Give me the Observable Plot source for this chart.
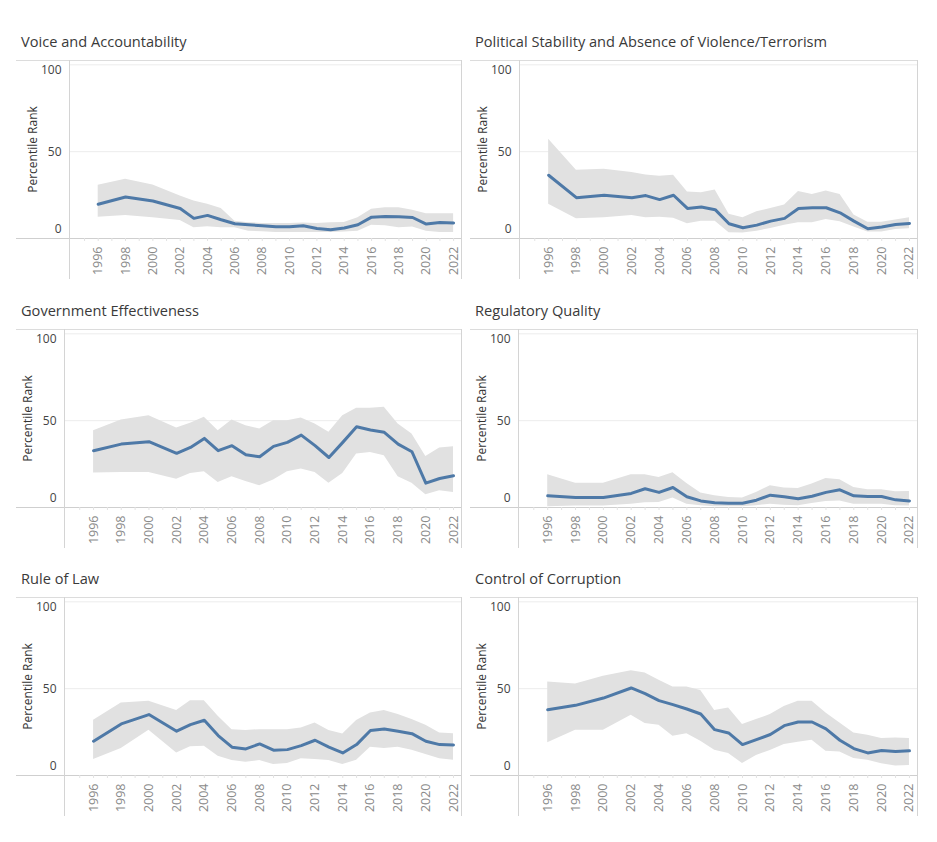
<!DOCTYPE html>
<html>
<head>
<meta charset="utf-8">
<script src="https://cdn.jsdelivr.net/npm/d3@7"></script>
<script src="https://cdn.jsdelivr.net/npm/@observablehq/plot@0.6"></script>
<style>
  html, body { margin: 0; padding: 0; background: #fff; }
  body { width: 937px; height: 842px; position: relative; overflow: hidden; font-family: "Open Sans", "Noto Sans", sans-serif; }
  .title { position: absolute; font-size: 14.6px; font-weight: 400; color: #3a3a3a; white-space: nowrap; line-height: 20px; }
  .chart { position: absolute; }
  .chart svg { display: block; overflow: visible; }
</style>
</head>
<body>
<script>
const years = [1996, 1998, 2000, 2002, 2003, 2004, 2005, 2006, 2007, 2008, 2009, 2010, 2011, 2012, 2013, 2014, 2015, 2016, 2017, 2018, 2019, 2020, 2021, 2022];
const evenYears = [1996, 1998, 2000, 2002, 2004, 2006, 2008, 2010, 2012, 2014, 2016, 2018, 2020, 2022];
const minorYears = d3.range(1995, 2023);
const yTicks = [0, 50, 100];
const yLabel = "Percentile Rank";

const titles = [
  "Voice and Accountability",
  "Political Stability and Absence of Violence/Terrorism",
  "Government Effectiveness",
  "Regulatory Quality",
  "Rule of Law",
  "Control of Corruption"
];

// Voice and Accountability
const vaRank = [19.7, 23.9, 21.6, 17.3, 11.6, 13.3, 10.8, 8.5, 7.9, 7.3, 6.7, 6.7, 7.3, 5.8, 5.0, 6.0, 7.9, 12.3, 12.7, 12.5, 12.1, 8.3, 9.2, 8.9];
const vaHigh = [30.6, 34.1, 30.8, 24.5, 21.6, 19.7, 17.3, 10.0, 9.1, 8.7, 8.7, 8.7, 8.9, 8.7, 9.1, 9.2, 11.9, 16.8, 17.7, 17.7, 16.2, 14.3, 14.3, 14.3];
const vaLow  = [12.3, 13.3, 11.9, 10.4, 6.2, 6.7, 6.2, 6.2, 4.2, 3.9, 3.5, 3.5, 3.5, 3.5, 3.5, 3.7, 4.2, 7.7, 7.3, 6.2, 6.6, 4.2, 3.5, 3.5];

// Political Stability and Absence of Violence/Terrorism
const psRank = [36.4, 23.5, 24.9, 23.5, 24.7, 22.4, 24.9, 17.3, 18.1, 16.6, 8.5, 6.2, 7.7, 10.0, 11.6, 17.3, 17.7, 17.7, 14.8, 10.0, 5.6, 6.6, 8.1, 8.7];
const psHigh = [57.2, 39.3, 39.9, 38.0, 36.6, 35.8, 36.4, 26.8, 26.4, 27.9, 13.9, 11.9, 15.4, 17.3, 19.3, 27.0, 25.4, 27.4, 25.4, 13.5, 9.4, 9.4, 10.6, 11.9];
const psLow  = [19.7, 11.4, 11.9, 13.3, 11.9, 12.3, 11.6, 8.5, 10.0, 10.0, 3.3, 3.1, 4.2, 5.8, 7.7, 9.1, 9.1, 11.0, 9.6, 6.6, 3.7, 3.7, 5.2, 5.6];

// Government Effectiveness
const geRank = [32.7, 36.5, 37.9, 31.2, 34.6, 39.8, 32.7, 35.6, 30.4, 29.2, 35.2, 37.5, 41.7, 35.6, 28.8, 37.5, 46.5, 44.6, 43.3, 36.5, 32.1, 14.0, 16.7, 18.3];
const geHigh = [44.2, 50.4, 52.9, 45.8, 48.5, 51.9, 44.2, 50.4, 47.1, 45.2, 50.0, 50.0, 51.5, 48.1, 43.3, 52.9, 57.1, 57.1, 57.7, 48.1, 42.3, 29.4, 34.2, 35.0];
const geLow  = [19.8, 20.2, 20.2, 16.3, 19.6, 20.6, 14.4, 17.7, 15.0, 12.5, 15.8, 20.6, 22.1, 20.2, 14.0, 19.6, 30.8, 31.7, 29.8, 17.7, 14.0, 7.3, 9.6, 8.7];

// Regulatory Quality
const rqRank = [6.7, 5.8, 5.8, 8.1, 10.8, 8.7, 11.5, 6.2, 3.8, 2.7, 2.5, 2.5, 4.2, 7.1, 6.2, 5.0, 6.5, 8.7, 10.2, 6.7, 6.3, 6.3, 4.4, 3.8];
const rqHigh = [18.8, 14.0, 14.0, 18.8, 18.8, 17.3, 20.0, 13.8, 8.3, 6.7, 5.8, 5.4, 8.7, 12.5, 11.2, 11.0, 13.5, 16.7, 16.0, 11.5, 10.2, 10.2, 9.0, 9.2];
const rqLow  = [0.4, 0.8, 0.8, 1.9, 2.7, 2.9, 5.4, 1.9, 1.0, 0.4, 0.4, 0.4, 1.0, 1.9, 1.3, 1.0, 2.3, 3.5, 3.8, 1.9, 1.9, 1.9, 1.0, 0.8];

// Rule of Law
const rlRank = [19.7, 29.7, 35.1, 25.5, 29.3, 31.8, 23.0, 16.3, 15.3, 18.2, 14.6, 14.9, 17.2, 20.3, 16.3, 13.0, 17.8, 25.9, 26.8, 25.5, 24.1, 19.7, 17.8, 17.6];
const rlHigh = [31.8, 41.8, 42.7, 37.5, 43.1, 43.1, 34.1, 26.4, 25.9, 26.4, 26.4, 26.4, 27.4, 30.3, 25.9, 23.9, 31.6, 36.0, 37.4, 35.1, 32.2, 28.9, 24.5, 24.1];
const rlLow  = [9.2, 15.5, 26.1, 13.0, 16.5, 16.9, 11.1, 8.6, 7.7, 8.6, 6.3, 6.9, 9.6, 9.2, 8.6, 6.3, 8.8, 16.3, 15.5, 16.3, 14.6, 12.1, 9.6, 8.8];

// Control of Corruption
const ccRank = [37.9, 40.4, 44.6, 50.4, 47.1, 43.1, 40.8, 38.3, 35.4, 26.4, 24.5, 17.8, 20.7, 23.6, 28.7, 30.8, 30.8, 26.8, 20.3, 15.5, 13.0, 14.4, 13.8, 14.2];
const ccHigh = [53.8, 52.7, 57.1, 60.3, 59.0, 54.8, 51.0, 51.0, 49.0, 37.4, 38.9, 29.3, 32.2, 35.1, 39.8, 42.7, 42.7, 36.0, 30.3, 24.5, 23.2, 21.3, 21.6, 21.3];
const ccLow  = [18.8, 26.1, 26.1, 34.7, 29.9, 28.9, 22.6, 24.1, 19.7, 14.6, 12.6, 6.9, 11.5, 14.4, 17.8, 19.2, 20.3, 14.0, 13.6, 9.8, 8.8, 6.7, 5.4, 5.7];

const series = [
  [vaRank, vaLow, vaHigh],
  [psRank, psLow, psHigh],
  [geRank, geLow, geHigh],
  [rqRank, rqLow, rqHigh],
  [rlRank, rlLow, rlHigh],
  [ccRank, ccLow, ccHigh]
];

// layout
const colLeft = [16, 470];
const colWidth = [446, 448];
const rowTop = [60, 329, 597];
const panelMarginLeft = [53, 49, 48, 48, 48, 48];

function frameLines(index, scales, values, dims) {
  const g = d3.create("svg:g");
  const w = dims.width, h = dims.height;
  const xl = Math.round(dims.marginLeft) + 0.5;
  const xr = Math.round(w - dims.marginRight) - 0.5;
  const y0 = Math.round(scales.y(0)) + 0.5;
  g.append("line").attr("x1", 0).attr("x2", xr).attr("y1", 0.5).attr("y2", 0.5).attr("stroke", "#dcdcdc");
  g.append("line").attr("x1", 0).attr("x2", xr).attr("y1", y0).attr("y2", y0).attr("stroke", "#cfcfcf");
  g.append("line").attr("x1", xl).attr("x2", xl).attr("y1", 0).attr("y2", h).attr("stroke", "#d4d4d4");
  g.append("line").attr("x1", xr).attr("x2", xr).attr("y1", 0).attr("y2", h).attr("stroke", "#d4d4d4");
  return g.node();
}

function makePanel(i) {
  const [rank, lo, hi] = series[i];
  const data = years.map((yr, k) => ({year: yr, rank: rank[k], lo: lo[k], hi: hi[k]}));
  const col = i % 2, row = Math.floor(i / 2);
  const width = colWidth[col];

  const plot = Plot.plot({
    width,
    height: 219,
    marginLeft: panelMarginLeft[i],
    marginRight: 0,
    marginTop: 0,
    marginBottom: 41,
    style: {fontFamily: '"Open Sans", "Noto Sans", sans-serif', background: "transparent", overflow: "visible"},
    x: {domain: [1993.9, 2022.65], label: null},
    y: {domain: [0, 102.5], label: null},
    marks: [
      Plot.gridY([50, 100], {stroke: "#ececec", strokeOpacity: 1}),
      Plot.areaY(data, {x: "year", y1: "lo", y2: "hi", fill: "#e1e1e1", curve: "linear"}),
      Plot.lineY(data, {x: "year", y: "rank", stroke: "#4e79a7", strokeWidth: 3, strokeLinejoin: "round", strokeLinecap: "round"}),
      frameLines,
      Plot.axisX({ticks: minorYears, tickSize: 3, tickFormat: () => "", stroke: "#e3e3e3", label: null}),
      Plot.axisX({ticks: evenYears, tickSize: 0, tickPadding: 8, tickRotate: -90, tickFormat: d => String(d), fill: "#8a8a8a", fontSize: 12.5, label: null}),
      Plot.axisY({ticks: [yTicks[2]], tickSize: 0, tickPadding: 8, dy: 5, fill: "#444", fontSize: 12, label: null}),
      Plot.axisY({ticks: [yTicks[1]], tickSize: 0, tickPadding: 8, fill: "#444", fontSize: 12, label: null}),
      Plot.axisY({ticks: [yTicks[0]], tickSize: 0, tickPadding: 8, dy: -9, fill: "#444", fontSize: 12, label: null}),
      Plot.text([yLabel], {text: d => d, frameAnchor: "left", textAnchor: "middle", lineAnchor: "middle", rotate: -90, dx: -36, fill: "#333", fontSize: 12})
    ]
  });

  const div = document.createElement("div");
  div.className = "chart";
  div.style.left = colLeft[col] + "px";
  div.style.top = rowTop[row] + "px";
  div.appendChild(plot);
  document.body.appendChild(div);

  const t = document.createElement("div");
  t.className = "title";
  t.textContent = titles[i];
  t.style.left = (colLeft[col] + 5) + "px";
  t.style.top = (rowTop[row] - 29) + "px";
  document.body.appendChild(t);
}

for (let i = 0; i < 6; i++) makePanel(i);
</script>
</body>
</html>
